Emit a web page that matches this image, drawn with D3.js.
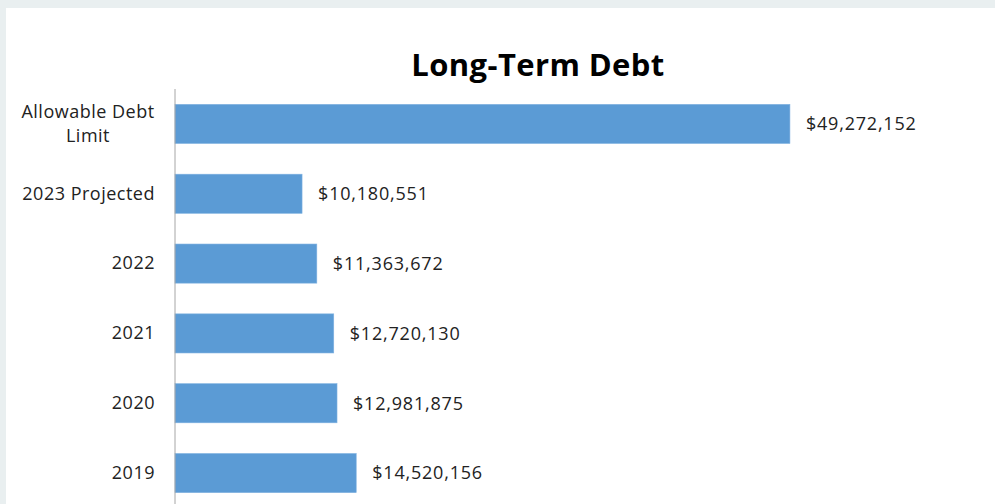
<!DOCTYPE html>
<html>
<head>
    <style>
        body { margin: 0; background: #e9eff0; }
        svg { display: block; }
        .cat text { font: 18px "Open Sans", sans-serif; fill: #222; letter-spacing: 0.5px; }
        .val { font: 18px "Open Sans", sans-serif; fill: #222; letter-spacing: 0.8px; }
        .title { font: bold 31px "Open Sans", sans-serif; fill: #000; text-anchor: middle; letter-spacing: 0.4px; }
    </style>
    <script src="https://d3js.org/d3.v7.min.js"></script>
</head>
<body>
    <svg width="995" height="504"></svg>
    <script>
        var categories = ["Allowable Debt Limit", "2023 Projected", "2022", "2021", "2020", "2019"];
        var debt = [49272152, 10180551, 11363672, 12720130, 12981875, 14520156];

        var svg = d3.select("svg");

        // white panel inside the grey frame
        svg.append("rect")
           .attr("x", 6).attr("y", 8)
           .attr("width", 989).attr("height", 496)
           .attr("fill", "#fff");

        var x = d3.scaleLinear().domain([0, 50000000]).range([175, 799]);
        var y = d3.scaleBand().domain(categories)
                  .range([89, 508])
                  .paddingInner(0.44).paddingOuter(0.22);

        svg.append("text")
           .attr("class", "title")
           .attr("x", 538).attr("y", 76)
           .text("Long-Term Debt");

        svg.selectAll(".bar")
           .data(categories)
           .enter().append("rect")
           .attr("class", "bar")
           .attr("x", x(0))
           .attr("y", function(d) { return y(d); })
           .attr("width", function(d, i) { return x(debt[i]) - x(0); })
           .attr("height", y.bandwidth())
           .attr("fill", "#5b9bd5")
           .attr("stroke", "#7fb1e0")
           .attr("stroke-width", 0.6);

        var fmt = d3.format("$,");
        svg.selectAll(".val")
           .data(categories)
           .enter().append("text")
           .attr("class", "val")
           .attr("x", function(d, i) { return x(debt[i]) + 16; })
           .attr("y", function(d) { return y(d) + y.bandwidth() / 2; })
           .attr("dy", "0.35em")
           .text(function(d, i) { return fmt(debt[i]); });

        // category axis
        var axis = svg.append("g")
                      .attr("class", "cat")
                      .attr("transform", "translate(175,0)")
                      .call(d3.axisLeft(y).tickSize(0).tickPadding(20));
        axis.select(".domain").attr("stroke", "#a6a6a6").attr("d", "M0,89V504");
        axis.selectAll(".tick text").attr("font-size", null).attr("font-family", null).attr("fill", null)
            .each(function(d) {
                if (d !== "Allowable Debt Limit") return;
                var t = d3.select(this).text(null).attr("text-anchor", "middle").attr("x", -87);
                t.append("tspan").attr("x", -87).attr("dy", "-0.35em").text("Allowable Debt");
                t.append("tspan").attr("x", -87).attr("dy", "1.35em").text("Limit");
            });
    </script>
</body>
</html>
